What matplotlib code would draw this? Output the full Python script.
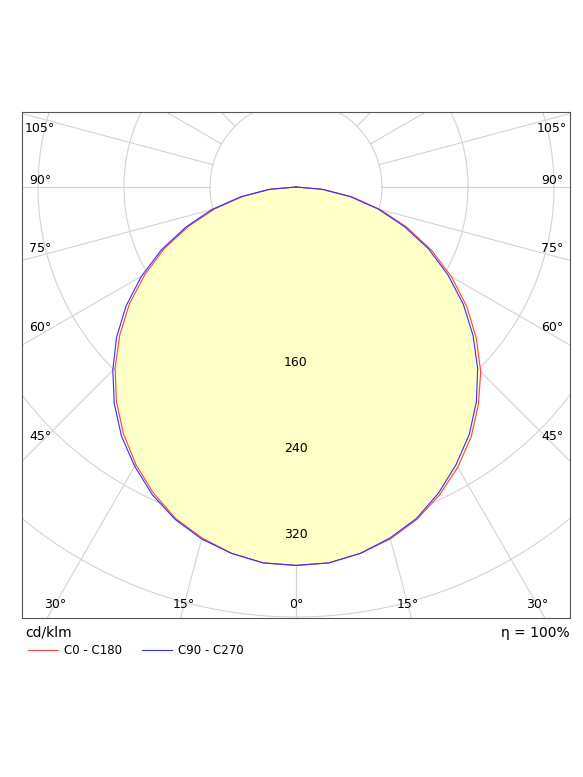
import numpy as np
import matplotlib
matplotlib.use("Agg")
import matplotlib.pyplot as plt

gamma = [0, 5, 10, 15, 20, 25, 30, 35, 40, 45, 50, 55, 60, 65, 70, 75, 80, 85, 90]
c0 = [352, 351, 346, 339, 329, 316, 301, 284, 264, 243, 219, 194, 167, 139, 110, 81, 53, 25, 0]
c180 = [352, 351, 346, 338, 328, 314, 298, 280, 260, 238, 214, 189, 162, 135, 106, 78, 50, 24, 0]
c90 = [352, 351, 346, 338, 328, 314, 298, 281, 261, 239, 215, 190, 163, 136, 107, 79, 51, 24, 0]
c270 = [352, 351, 346, 339, 329, 316, 300, 283, 263, 241, 218, 193, 166, 138, 109, 81, 52, 25, 0]
rings = [80, 160, 240, 320, 400]
ring_labels = ["160", "240", "320"]

W, H = 583, 777
fig = plt.figure(figsize=(W/100, H/100), dpi=100)
L, R, T, B = 22, 570, 112, 618
ax = fig.add_axes([L/W, 1-B/H, (R-L)/W, (B-T)/H])
s = 86/80.0
cx, cy = 296, 187
xmin, xmax = (L-cx)/s, (R-cx)/s
ymin, ymax = -(B-cy)/s, (cy-T)/s
ax.set_xlim(xmin, xmax); ax.set_ylim(ymin, ymax)
ax.set_aspect('auto')
ax.set_xticks([]); ax.set_yticks([])
for sp in ax.spines.values():
    sp.set_color('#555555'); sp.set_linewidth(0.8)

gc = '#d4d4d4'
t = np.linspace(0, 2*np.pi, 400)
for r in rings:
    ax.plot(r*np.cos(t), r*np.sin(t), color=gc, lw=0.8, zorder=1)
for a in range(0, 181, 15):
    for sg in (1, -1):
        g = np.radians(a)
        dx, dy = sg*np.sin(g), -np.cos(g)
        ax.plot([80*dx, 800*dx], [80*dy, 800*dy], color=gc, lw=0.8, zorder=1)

def curve(right, left):
    g = np.radians(gamma)
    xr = np.array(right)*np.sin(g); yr = -np.array(right)*np.cos(g)
    xl = -np.array(left)*np.sin(g); yl = -np.array(left)*np.cos(g)
    return np.concatenate([xl[::-1], xr]), np.concatenate([yl[::-1], yr])

xa, ya = curve(c0, c180)
xb, yb = curve(c90, c270)
ax.fill(xa, ya, color='#ffffc8', zorder=2, lw=0)
ax.plot(xa, ya, color='#ff4040', lw=0.8, zorder=3)
ax.plot(xb, yb, color='#3030ff', lw=0.8, zorder=3)

for r, lab in zip(rings[1:4], ring_labels):
    ax.text(0, -r - 3, lab, ha='center', va='center', fontsize=9, zorder=4)

inset = 18/s
for a in range(0, 106, 15):
    g = np.radians(a)
    for sg in ((1, -1) if a else (1,)):
        dx, dy = sg*np.sin(g), -np.cos(g)
        tb = ymin/dy if dy < 0 else 1e9
        ts = (xmax/abs(dx)) if dx != 0 else 1e9
        if tb < ts:
            y = ymin + 14/s
            x = dx*(y/dy)
        else:
            x = sg*(xmax - inset)
            y = dy*(abs(x)/abs(dx)) + 7/s
            if a > 90:
                y = min(y, ymax - 16/s)
        ax.text(x, y, f"{a}°", ha='center', va='center', fontsize=9, zorder=4)

fig.text(L/W + 0.005, 1-633/H, "cd/klm", fontsize=10, va='center', ha='left')
fig.text(R/W, 1-633/H, "η = 100%", fontsize=10, va='center', ha='right')
fig.add_artist(plt.Line2D([28/W, 58/W], [1-650/H]*2, color='#ff4040', lw=0.8))
fig.text(64/W, 1-650/H, "C0 - C180", fontsize=8.5, va='center')
fig.add_artist(plt.Line2D([142/W, 172/W], [1-650/H]*2, color='#3030ff', lw=0.8))
fig.text(178/W, 1-650/H, "C90 - C270", fontsize=8.5, va='center')

fig.savefig("out.png", dpi=100)
